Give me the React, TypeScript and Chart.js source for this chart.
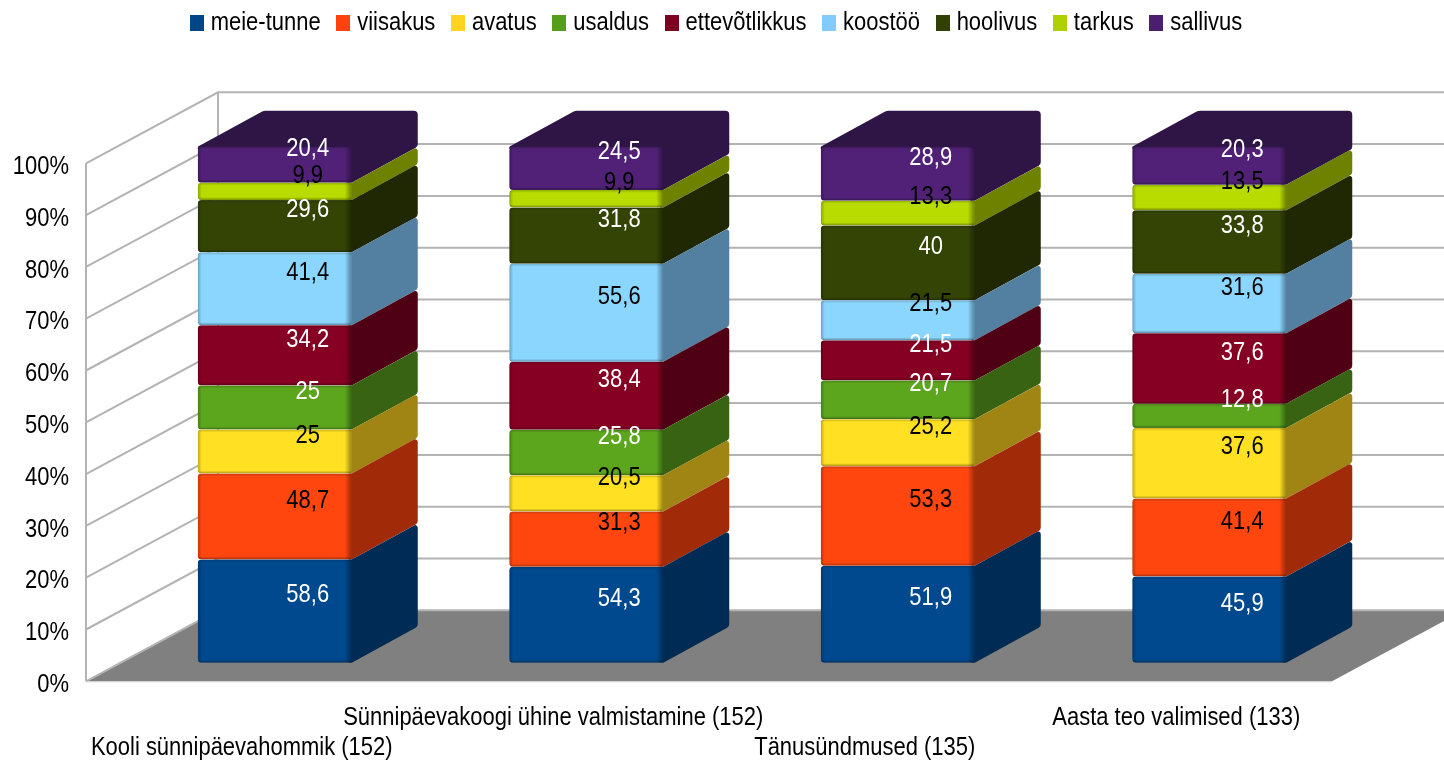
import React, { useEffect, useRef } from "react";
import { Chart, registerables, BarController, BarElement } from "chart.js";

Chart.register(...registerables);

const categories = [
  "Kooli sünnipäevahommik (152)",
  "Sünnipäevakoogi ühine valmistamine (152)",
  "Tänusündmused (135)",
  "Aasta teo valimised (133)",
];
const seriesNames = ["meie-tunne", "viisakus", "avatus", "usaldus", "ettevõtlikkus", "koostöö", "hoolivus", "tarkus", "sallivus"];
const meieTunne = [58.6, 54.3, 51.9, 45.9];
const viisakus = [48.7, 31.3, 53.3, 41.4];
const avatus = [25, 20.5, 25.2, 37.6];
const usaldus = [25, 25.8, 20.7, 12.8];
const ettevotlikkus = [34.2, 38.4, 21.5, 37.6];
const koostoo = [41.4, 55.6, 21.5, 31.6];
const hoolivus = [29.6, 31.8, 40, 33.8];
const tarkus = [9.9, 9.9, 13.3, 13.5];
const sallivus = [20.4, 24.5, 28.9, 20.3];
const seriesValues = [meieTunne, viisakus, avatus, usaldus, ettevotlikkus, koostoo, hoolivus, tarkus, sallivus];
const seriesColors = ["#004586", "#ff420e", "#ffd320", "#579d1c", "#7e0021", "#83caff", "#314004", "#aecf00", "#4b1f6f"];
const labelColors = ["#fff", "#000", "#000", "#fff", "#fff", "#000", "#fff", "#000", "#fff"];

const FONT = "'Liberation Sans', sans-serif";
const FS = 26;
const TEXT_SQUEEZE = 0.845;
const DX = 66, DY = -36; // bar depth
const WALL_DX = 132, WALL_DY = -71; // chart depth
const GRID = "#b3b3b3";

const totals = categories.map((_, c) => seriesValues.reduce((s, v) => s + v[c], 0));

function shade(hex: string, f: number) {
  const n = parseInt(hex.slice(1), 16);
  const ch = (v: number) => Math.min(255, Math.round(v * f));
  return `rgb(${ch(n >> 16)},${ch((n >> 8) & 255)},${ch(n & 255)})`;
}

// vertices are [x, y, cornerRadius]
function roundedPoly(ctx: CanvasRenderingContext2D, pts: number[][]) {
  ctx.beginPath();
  const n = pts.length;
  const a = pts[n - 1], b = pts[0];
  ctx.moveTo((a[0] + b[0]) / 2, (a[1] + b[1]) / 2);
  for (let i = 0; i < n; i++) {
    const p = pts[i], q = pts[(i + 1) % n];
    ctx.arcTo(p[0], p[1], q[0], q[1], p[2]);
  }
  ctx.closePath();
}

function strip(ctx: CanvasRenderingContext2D, x0: number, y0: number, x1: number, y1: number, rx: number, ry: number, rw: number, rh: number, alpha: number) {
  const g = ctx.createLinearGradient(x0, y0, x1, y1);
  g.addColorStop(0, `rgba(0,0,0,${alpha})`);
  g.addColorStop(1, "rgba(0,0,0,0)");
  ctx.fillStyle = g;
  ctx.fillRect(rx, ry, rw, rh);
}

class Bar3DElement extends BarElement {
  static id = "bar3d";
  static defaults = BarElement.defaults;
  static defaultRoutes = BarElement.defaultRoutes;
  drawTop = false;
  draw(ctx: CanvasRenderingContext2D) {
    const { x, y, base, width } = (this as any).getProps(["x", "y", "base", "width"]);
    const color = (this as any).options.backgroundColor as string;
    const x1 = x - width / 2, x2 = x + width / 2;
    const R = 4;
    ctx.save();
    ctx.fillStyle = shade(color, 0.63);
    if (this.drawTop) {
      // top and side read as one dark shape
      roundedPoly(ctx, [
        [x1, y + 2, 0],
        [x1, y, 1.5],
        [x1 + DX, y + DY, 7],
        [x2 + DX, y + DY, 4],
        [x2 + DX, base + DY, 4],
        [x2, base, 2],
        [x2 - 3, base, 0],
      ]);
    } else {
      roundedPoly(ctx, [
        [x2 - 3, y, 0],
        [x2, y, 0],
        [x2 + DX, y + DY, 2.5],
        [x2 + DX, base + DY, 4],
        [x2, base, 2],
        [x2 - 3, base, 0],
      ]);
    }
    ctx.fill();
    // front
    ctx.beginPath();
    ctx.roundRect(x1, y, width, base - y, R);
    ctx.save();
    ctx.clip();
    ctx.fillStyle = shade(color, 1.06);
    ctx.fillRect(x1, y, width, base - y);
    strip(ctx, x2, 0, x2 - 7, 0, x2 - 7, y, 7, base - y, 0.4);
    strip(ctx, x1, 0, x1 + 4, 0, x1, y, 4, base - y, 0.25);
    strip(ctx, 0, base, 0, base - 3, x1, base - 3, width, 3, 0.35);
    strip(ctx, 0, y, 0, y + 3, x1, y, width, 3, 0.2);
    ctx.restore();
    ctx.restore();
  }
}

class Bar3DController extends BarController {
  static id = "bar3d";
  static defaults = { ...BarController.defaults, dataElementType: "bar3d" };
  static overrides = BarController.overrides;
  draw() {
    const meta = (this as any)._cachedMeta;
    const last = (this as any).chart.data.datasets.length - 1;
    meta.data.forEach((el: any) => {
      el.drawTop = (this as any).index === last;
    });
    super.draw();
  }
}

Chart.register(Bar3DController, Bar3DElement);

function markerImage(color: string) {
  const c = document.createElement("canvas");
  c.width = 14;
  c.height = 16;
  const g = c.getContext("2d")!;
  g.fillStyle = color;
  g.fillRect(0, 0, 14, 16);
  return c;
}

// The reference's lettering is the same face squeezed sideways.
function squeezeText(ctx: any) {
  const fill = ctx.fillText.bind(ctx);
  const measure = ctx.measureText.bind(ctx);
  ctx.fillText = (t: string, x: number, y: number, w?: number) => {
    ctx.save();
    ctx.translate(x, y);
    ctx.scale(TEXT_SQUEEZE, 1);
    if (w === undefined) fill(t, 0, 0);
    else fill(t, 0, 0, w / TEXT_SQUEEZE);
    ctx.restore();
  };
  ctx.measureText = (t: string) => {
    const m = measure(t);
    return { width: m.width * TEXT_SQUEEZE, actualBoundingBoxAscent: m.actualBoundingBoxAscent, actualBoundingBoxDescent: m.actualBoundingBoxDescent };
  };
}

const scenePlugin = {
  id: "scene3d",
  beforeLayout(chart: any) {
    const l = chart.legend;
    if (l && !l.__wrapped) {
      const fit = l.fit;
      l.fit = function () {
        fit.call(this);
        this.height = 163.3;
      };
      l.__wrapped = true;
    }
  },
  beforeDraw(chart: any) {
    const l = chart.legend;
    l.top = -11.6;
    l.left = 53;
    l.right = 53 + 1332;
  },
  beforeDatasetsDraw(chart: any) {
    const ctx: CanvasRenderingContext2D = chart.ctx;
    const { left, right } = chart.chartArea;
    const yS = chart.scales.y;
    const y0 = yS.getPixelForValue(0);
    ctx.save();
    // floor
    ctx.fillStyle = "#808080";
    ctx.beginPath();
    ctx.moveTo(left, y0);
    ctx.lineTo(right, y0);
    ctx.lineTo(right + WALL_DX, y0 + WALL_DY);
    ctx.lineTo(left + WALL_DX, y0 + WALL_DY);
    ctx.closePath();
    ctx.fill();
    ctx.strokeStyle = GRID;
    ctx.lineWidth = 2;
    for (const t of yS.ticks) {
      const p = yS.getPixelForValue(t.value);
      ctx.beginPath();
      ctx.moveTo(left, p);
      ctx.lineTo(left + WALL_DX, p + WALL_DY);
      ctx.lineTo(right + WALL_DX, p + WALL_DY);
      ctx.stroke();
    }
    ctx.beginPath();
    ctx.moveTo(left, yS.getPixelForValue(100));
    ctx.lineTo(left, y0);
    ctx.moveTo(left + WALL_DX, yS.getPixelForValue(100) + WALL_DY);
    ctx.lineTo(left + WALL_DX, y0 + WALL_DY);
    ctx.stroke();
    ctx.strokeStyle = "#d0d0d0";
    ctx.lineWidth = 1;
    ctx.beginPath();
    ctx.moveTo(left, y0 + 0.5);
    ctx.lineTo(right, y0 + 0.5);
    ctx.stroke();
    ctx.restore();
    // bars stand in the middle of the chart's depth
    ctx.save();
    ctx.translate(WALL_DX / 4, 0);
  },
  afterDatasetsDraw(chart: any) {
    const ctx: CanvasRenderingContext2D = chart.ctx;
    ctx.restore();
    ctx.save();
    ctx.font = `${FS}px ${FONT}`;
    ctx.textAlign = "center";
    ctx.textBaseline = "middle";
    seriesValues.forEach((vals, s) => {
      const meta = chart.getDatasetMeta(s);
      vals.forEach((v, c) => {
        const el = meta.data[c];
        ctx.fillStyle = labelColors[s];
        ctx.fillText(
          String(v).replace(".", ","),
          el.x + WALL_DX / 4 + DX / 2,
          (el.y + el.base) / 2 + DY / 2 + 2,
        );
      });
    });
    ctx.restore();
  },
};

export default function App() {
  const ref = useRef<HTMLCanvasElement>(null);
  useEffect(() => {
    const font = { family: FONT, size: FS };
    squeezeText(ref.current!.getContext("2d"));
    const chart = new Chart(ref.current!, {
      type: "bar3d" as any,
      data: {
        labels: categories,
        datasets: seriesNames.map((name, s) => ({
          label: name,
          data: seriesValues[s].map((v, c) => (v / totals[c]) * 100),
          backgroundColor: seriesColors[s],
          yAxisID: "y1",
          stack: "all",
          clip: false as any,
          barPercentage: 0.4944,
          categoryPercentage: 1,
        })),
      },
      options: {
        animation: false,
        responsive: false,
        devicePixelRatio: 1,
        layout: { padding: { left: 0, right: 112, top: 0, bottom: 0 } },
        plugins: {
          tooltip: { enabled: false },
          legend: {
            position: "top",
            labels: {
              font,
              color: "#000",
              padding: 21.6,
              usePointStyle: true,
              pointStyleWidth: 2,
              generateLabels: () =>
                seriesNames.map((name, i) => ({
                  text: name,
                  pointStyle: markerImage(seriesColors[i]),
                  fontColor: "#000",
                  datasetIndex: i,
                })) as any,
            },
          },
        },
        scales: {
          x: {
            stacked: true,
            offset: true,
            grid: { display: false, drawTicks: false },
            border: { display: false },
            afterFit: (s: any) => {
              s.height = 79.7;
            },
            ticks: {
              font: { ...font, lineHeight: 30 / FS },
              color: "#000",
              padding: 22,
              autoSkip: false,
              maxRotation: 0,
              minRotation: 0,
              callback: (_v: any, i: number) => (i % 2 === 0 ? ["", categories[i]] : [categories[i], ""]),
            },
          },
          y: {
            min: 0,
            max: 100,
            grid: { display: false, drawTicks: false },
            border: { display: false },
            afterFit: (s: any) => {
              s.width = 86;
            },
            ticks: {
              font: { ...font, lineHeight: 7 / FS },
              color: "#000",
              padding: 17,
              stepSize: 10,
              callback: (v: any) => ["", `${v}%`],
            },
          },
          y1: {
            display: false,
            stacked: true,
            min: -3.605,
            max: 96.78,
          },
        },
      },
      plugins: [scenePlugin as any],
    });
    return () => chart.destroy();
  }, []);
  return (
    <div style={{ position: "absolute", left: 0, top: 0, width: 1444, height: 761, background: "#fff" }}>
      <canvas ref={ref} width={1444} height={761} style={{ display: "block" }} />
    </div>
  );
}
